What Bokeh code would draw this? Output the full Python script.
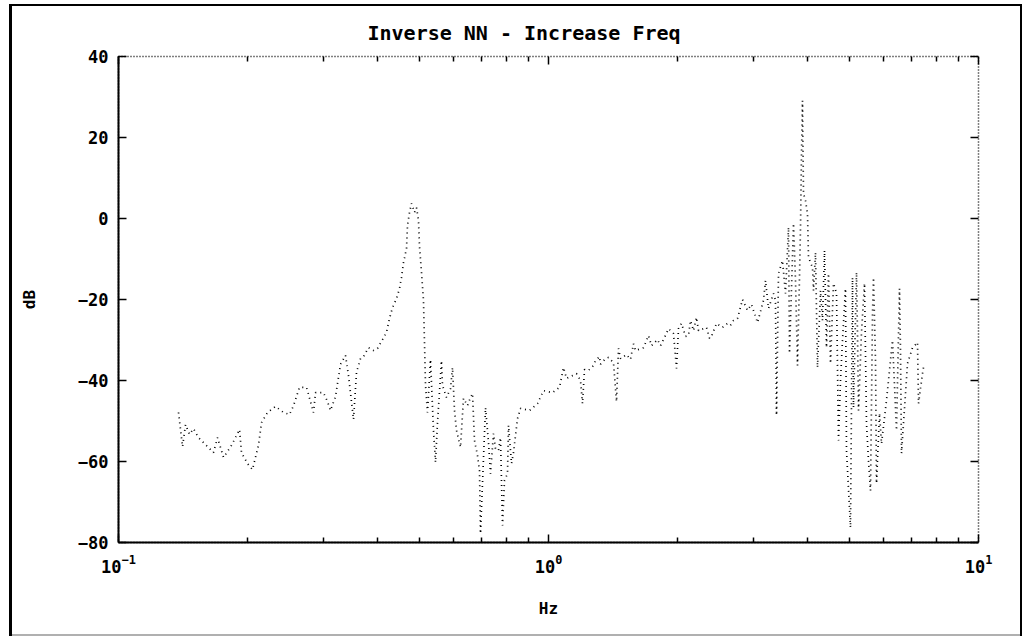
from bokeh.plotting import figure
from bokeh.models import (Range1d, FixedTicker, LogAxis, LinearAxis,
                          CustomJSTickFormatter, LogTickFormatter)
from bokeh.embed import file_html
from bokeh.resources import INLINE

# ---------------- data ----------------
freq_hz = [
    0.1379, 0.1409, 0.1432, 0.1463, 0.1494, 0.1535, 0.1663, 0.1699, 0.1755, 0.1832,
    0.1912, 0.1932, 0.1995, 0.2049, 0.2116, 0.2151, 0.2221, 0.2318, 0.2420, 0.2499,
    0.2553, 0.2636, 0.2737, 0.2841, 0.2872, 0.2997, 0.3062, 0.3112, 0.3196, 0.3283,
    0.3372, 0.3427, 0.3520, 0.3577, 0.3654, 0.3714, 0.3814, 0.3918, 0.4002, 0.4111,
    0.4200, 0.4268, 0.4337, 0.4431, 0.4503, 0.4551, 0.4600, 0.4675, 0.4700, 0.4751,
    0.4802, 0.4880, 0.4932, 0.4985, 0.5012, 0.5066, 0.5120, 0.5176, 0.5231, 0.5316,
    0.5402, 0.5460, 0.5519, 0.5638, 0.5669, 0.5792, 0.5917, 0.5981, 0.6045, 0.6110,
    0.6242, 0.6343, 0.6481, 0.6586, 0.6657, 0.6728, 0.6837, 0.6911, 0.6948, 0.7137,
    0.7252, 0.7330, 0.7449, 0.7529, 0.7651, 0.7734, 0.7817, 0.7901, 0.8029, 0.8072,
    0.8203, 0.8291, 0.8471, 0.8608, 0.9033, 0.9428, 0.9736,
    1.0217, 1.0607, 1.0837, 1.1012, 1.1618, 1.1869, 1.1997, 1.2126, 1.2389, 1.2725,
    1.2862, 1.3140, 1.3211, 1.3569, 1.3789, 1.4163, 1.4393, 1.4548, 1.4705, 1.5185,
    1.5513, 1.5764, 1.5934, 1.6632, 1.7083, 1.7360, 1.7927, 1.8217, 1.8612, 1.9014,
    1.9530, 1.9847, 2.0060, 2.0385, 2.0827, 2.1164, 2.1392, 2.1738, 2.2090, 2.2328,
    2.3305, 2.3682, 2.3937, 2.4587, 2.5390, 2.6079, 2.6501, 2.6930, 2.7513, 2.8260,
    2.9027, 2.9655, 3.0623,
    3.1623, 3.1964, 3.2481, 3.3363, 3.3722, 3.3903, 3.4268, 3.5010, 3.5576, 3.6154,
    3.6348, 3.7135, 3.7534, 3.7938, 3.8347, 3.8553, 3.8760, 3.8967, 3.9177, 3.9598,
    4.0025, 4.0240, 4.1111, 4.1332, 4.1777, 4.2227, 4.2911, 4.3373, 4.3840, 4.4312,
    4.4787, 4.5272, 4.6005, 4.6750, 4.7253, 4.7761, 4.8276, 4.9057, 4.9321, 5.0388,
    5.0931, 5.1204, 5.2034, 5.2313, 5.2594, 5.3446, 5.4312, 5.4896, 5.5487, 5.6085,
    5.6689, 5.6993, 5.7607, 5.7917, 5.8854, 5.9488, 6.1102, 6.3096, 6.4462, 6.5506,
    6.5858, 6.6212, 6.8374, 7.0230, 7.2136, 7.2523, 7.4093, 7.4491,
]
gain_db = [
    -47.9, -56.3, -50.9, -53.3, -51.9, -54.1, -57.8, -54.1, -59.0, -56.0,
    -52.1, -57.8, -60.5, -62.0, -56.0, -50.4, -47.9, -46.4, -47.9, -48.4,
    -46.2, -41.7, -41.7, -47.9, -43.0, -43.0, -45.2, -47.4, -44.0, -36.0,
    -33.8, -38.8, -49.6, -38.0, -34.6, -34.1, -31.9, -32.6, -32.1, -29.9,
    -28.1, -24.7, -22.0, -19.8, -17.3, -14.6, -10.9, -7.4, -1.7, 1.5,
    3.7, 1.5, 2.7, -0.5, -6.9, -13.3, -20.2, -41.2, -47.9, -34.8,
    -52.3, -60.2, -50.4, -35.1, -41.2, -44.2, -42.0, -36.8, -47.4, -52.3,
    -56.5, -44.4, -46.2, -44.2, -43.2, -54.8, -58.5, -62.2, -77.8, -46.7,
    -55.3, -63.0, -53.1, -56.8, -57.3, -54.1, -75.8, -64.7, -63.0, -51.1,
    -60.5, -57.8, -49.4, -46.9, -47.4, -45.7, -42.5,
    -43.0, -41.7, -36.8, -39.5, -38.3, -40.0, -45.7, -37.3, -37.5, -36.3,
    -35.1, -34.1, -36.0, -34.6, -34.3, -35.6, -45.2, -32.1, -34.6, -33.6,
    -34.8, -30.9, -32.6, -31.9, -28.9, -31.4, -29.9, -31.4, -29.4, -27.2,
    -28.4, -37.0, -27.2, -25.9, -29.1, -28.9, -25.2, -27.7, -24.4, -27.7,
    -26.9, -29.6, -29.1, -25.9, -26.9, -25.9, -26.4, -25.2, -24.7, -20.0,
    -22.7, -21.2, -25.7,
    -20.2, -15.3, -22.2, -18.5, -20.2, -48.6, -13.6, -10.4, -18.5, -2.2,
    -33.3, -1.2, -15.3, -36.3, -14.6, -2.2, 16.0, 29.1, 6.2, 4.4,
    1.2, -9.6, -12.1, -17.8, -8.4, -36.8, -17.8, -25.2, -7.9, -31.9,
    -13.6, -35.8, -16.0, -18.5, -54.8, -40.0, -30.1, -17.3, -57.3, -76.3,
    -14.6, -46.7, -13.3, -28.4, -47.4, -28.1, -16.0, -50.6, -59.8, -67.2,
    -23.5, -14.6, -35.1, -65.4, -48.1, -55.6, -44.9, -30.1, -52.3, -17.3,
    -32.6, -58.0, -35.8, -31.9, -30.6, -45.7, -38.3, -36.8,
]

x_ticks = [0.1, 1, 10]
x_minor_ticks = [0.2, 0.3, 0.4, 0.5, 0.6, 0.7, 0.8, 0.9, 2, 3, 4, 5, 6, 7, 8, 9]
y_ticks = [-80, -60, -40, -20, 0, 20, 40]

TITLE = "Inverse NN - Increase Freq"
X_LABEL = "Hz"
Y_LABEL = "dB"

FONT = "DejaVu Sans Mono"

# ---------------- figure ----------------
p = figure(width=1026, height=637, x_axis_type="log",
           x_range=Range1d(0.1, 10), y_range=Range1d(-80, 40),
           output_backend="svg", toolbar_location=None,
           min_border_left=118, min_border_right=48,
           min_border_top=56, min_border_bottom=95,
           title=TITLE)
p.background_fill_color = "white"
p.border_fill_color = None
# outer page frame drawn by CSS on the plot's own element
p.styles = {
    "background-color": "white",
    "box-shadow": ("inset 9px 0 0 0 white, inset 0 4px 0 0 white, "
                   "inset -4px 0 0 0 white, inset 0 -1px 0 0 white, "
                   "inset 12px 0 0 0 black, inset 0 6px 0 0 black, "
                   "inset -6px 0 0 0 black, inset 0 -3px 0 0 #b0b0b0"),
}
p.grid.visible = False
p.outline_line_color = "black"
p.outline_line_width = 1.5
p.outline_line_dash = "1 2"

p.title.text_font = FONT
p.title.text_font_size = "20px"
p.title.text_font_style = "bold"
p.title.text_color = "black"
p.title.align = "left"
p.title.offset = 249
p.title.standoff = 23

xt = FixedTicker(ticks=x_ticks, minor_ticks=x_minor_ticks)
yt = FixedTicker(ticks=y_ticks)
blank = CustomJSTickFormatter(code="return '';")

def style_axis(ax):
    ax.axis_line_color = "black"
    ax.axis_line_width = 2
    ax.major_tick_line_color = "black"
    ax.minor_tick_line_color = "black"
    ax.major_tick_line_width = 1.5
    ax.minor_tick_line_width = 1.5
    ax.major_tick_in = 8
    ax.major_tick_out = 0
    ax.minor_tick_in = 5
    ax.minor_tick_out = 0
    ax.major_label_text_font = FONT
    ax.major_label_text_font_size = "17px"
    ax.major_label_text_font_style = "bold"
    ax.major_label_text_color = "black"
    ax.axis_label_text_font = FONT
    ax.axis_label_text_font_size = "16px"
    ax.axis_label_text_font_style = "bold"
    ax.axis_label_text_color = "black"

xa = p.xaxis[0]
xa.ticker = xt
xa.formatter = LogTickFormatter()
xa.axis_label = X_LABEL
style_axis(xa)
xa.major_label_standoff = 11
xa.axis_label_standoff = 23

ya = p.yaxis[0]
ya.ticker = yt
ya.axis_label = Y_LABEL
style_axis(ya)
ya.minor_tick_line_color = None
ya.major_label_standoff = 10
ya.axis_label_standoff = 36

top = LogAxis(ticker=xt, formatter=blank)
style_axis(top)
top.axis_line_color = None
top.major_label_text_font_size = "1px"
top.major_label_standoff = 0
p.add_layout(top, "above")

right = LinearAxis(ticker=yt, formatter=blank)
style_axis(right)
right.axis_line_color = None
right.minor_tick_line_color = None
right.major_label_text_font_size = "1px"
right.major_label_standoff = 0
p.add_layout(right, "right")

p.line(freq_hz, gain_db, line_color="black", line_width=1.7, line_dash="1 4")

open("out.html", "w").write(file_html(p, INLINE))
